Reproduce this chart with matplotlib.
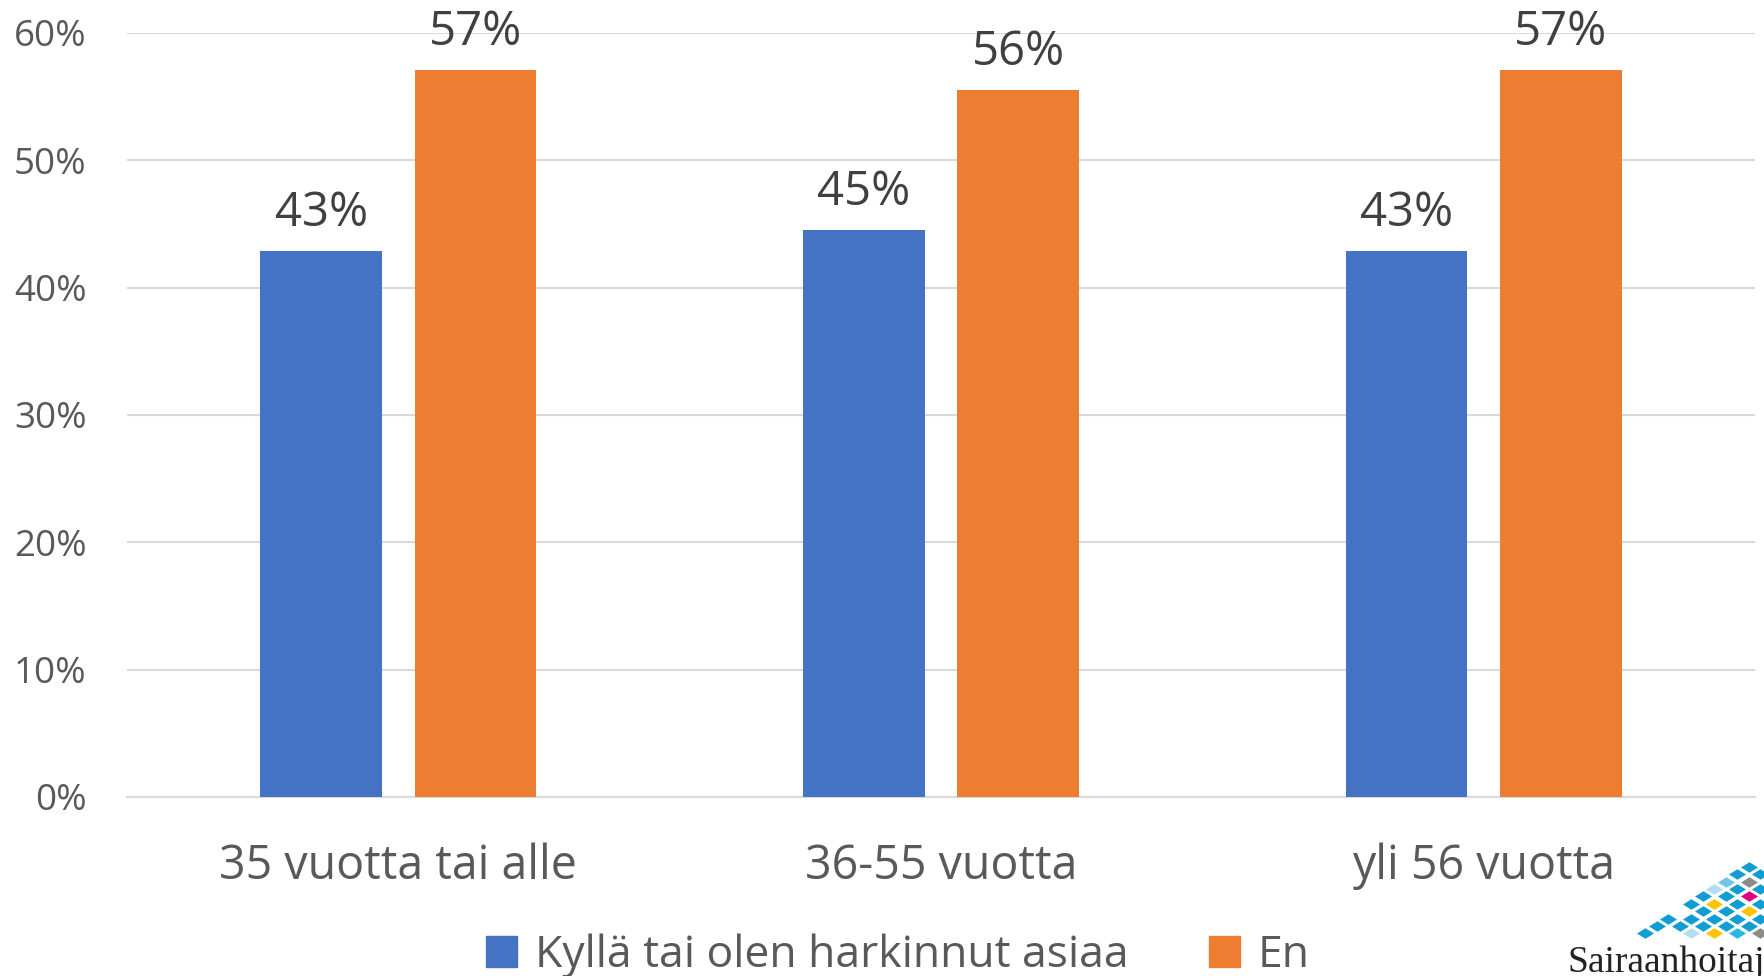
import matplotlib
matplotlib.use("Agg")
import matplotlib.pyplot as plt
import numpy as np
from matplotlib.patches import Patch
from matplotlib.path import Path

# data (percent)
categories = ["35 vuotta tai alle", "36-55 vuotta", "yli 56 vuotta"]
series_names = ["Kyllä tai olen harkinnut asiaa", "En"]
yes_values = [42.9, 44.5, 42.9]
no_values = [57.1, 55.5, 57.1]
y_ticks = [0, 10, 20, 30, 40, 50, 60]

BLUE = "#4472C4"
ORANGE = "#ED7D31"
GRID = "#D9D9D9"
TICK = "#595959"
LABEL = "#404040"

W, H = 1764, 976
fig = plt.figure(figsize=(W / 100, H / 100), dpi=100)
ax = fig.add_axes([127 / W, 179 / H, (1755 - 127) / W, (943 - 179) / H])

x = np.arange(len(categories))
width = 0.224
offset = 0.142
bars_yes = ax.bar(x - offset, yes_values, width, color=BLUE, zorder=3)
bars_no = ax.bar(x + offset, no_values, width, color=ORANGE, zorder=3)

for bars in (bars_yes, bars_no):
    for b in bars:
        v = b.get_height()
        ax.annotate(f"{int(v + 0.5)}%", (b.get_x() + b.get_width() / 2, v),
                    xytext=(0, 10), textcoords="offset points",
                    ha="center", va="bottom", fontsize=34,
                    family="Open Sans", color=LABEL)

ax.set_xlim(-0.5, len(categories) - 0.5)
ax.set_ylim(0, 60)
ax.set_yticks(y_ticks)
ax.set_yticklabels([f"{t}%" for t in y_ticks], family="Open Sans",
                   fontsize=26.5, color=TICK)
ax.set_xticks(x)
ax.set_xticklabels(categories, family="Open Sans", fontsize=33.5, color=TICK)
ax.tick_params(axis="y", length=0, pad=29)
ax.tick_params(axis="x", length=0, pad=33)
ax.grid(axis="y", color=GRID, linewidth=1.5, zorder=0)
for s in ("top", "right", "left"):
    ax.spines[s].set_visible(False)
ax.spines["bottom"].set_color(GRID)
ax.spines["bottom"].set_linewidth(1.5)

handles = [Patch(color=BLUE), Patch(color=ORANGE)]
fig.legend(handles, series_names, loc="center", bbox_to_anchor=(0.509, 20 / H),
           ncol=2, frameon=False, prop={"family": "Open Sans", "size": 32},
           handlelength=0.7, handleheight=0.7, handletextpad=0.4,
           columnspacing=1.8, labelcolor=TICK)

# logo, bottom right corner (pixel overlay)
logo = fig.add_axes([0, 0, 1, 1], zorder=-1)
logo.set_xlim(0, W)
logo.set_ylim(H, 0)
logo.axis("off")
pattern = [
    (0, {9: "b"}),
    (1, {8: "b", 10: "b"}),
    (2, {7: "l", 9: "g", 11: "b"}),
    (3, {6: "p", 8: "b", 10: "b"}),
    (4, {5: "b", 7: "b", 9: "m"}),
    (5, {4: "b", 6: "y", 8: "b", 10: "b"}),
    (6, {5: "b", 7: "b", 9: "y", 11: "b"}),
    (7, {2: "b", 4: "b", 6: "b", 8: "b", 10: "b"}),
    (8, {1: "b", 3: "b", 5: "b", 7: "b", 9: "b", 11: "b"}),
    (9, {0: "b", 4: "p", 6: "y", 8: "c", 10: "g"}),
]
logo_colors = {"b": "#119DD3", "l": "#6EC6E8", "p": "#B3DDF2", "g": "#8C8C8C",
               "m": "#E3007B", "y": "#FDC300", "c": "#25B9E3"}
diamond = Path([(-1, 0), (0, 0.62), (1, 0), (0, -0.62), (-1, 0)],
               [Path.MOVETO, Path.LINETO, Path.LINETO, Path.LINETO, Path.CLOSEPOLY])
for r, cells in pattern:
    for c, code in cells.items():
        logo.scatter(1645 + 11.5 * c, 866.7 + 7.4 * r, s=150, marker=diamond,
                     color=logo_colors[code], linewidths=0)
logo.text(1568, 972, "Sairaanhoitaj", family="Liberation Serif", fontsize=27,
          color="#222222", ha="left", va="baseline")

fig.savefig("out.png", dpi=100)
